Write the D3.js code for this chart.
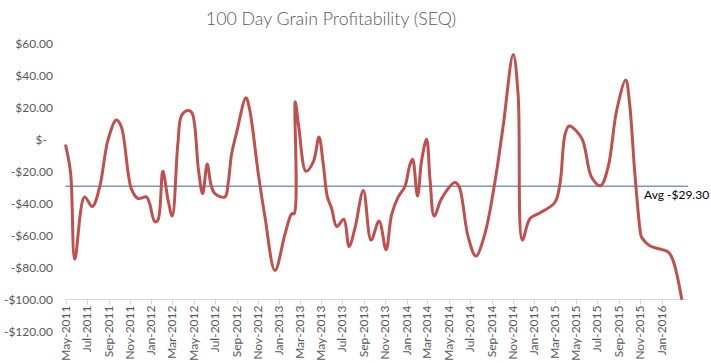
<!DOCTYPE html>
<html>
<head>
<meta charset="utf-8">
<script src="https://cdn.jsdelivr.net/npm/d3@7"></script>
<style>
  body { margin: 0; background: #fff; }
  #chart { width: 711px; height: 363px; }
  text { font-family: Lato, "Open Sans", sans-serif; }
</style>
</head>
<body>
<div id="chart"></div>
<script>
// profit per week
const dates = [
  "2011-05-01","2011-05-15","2011-05-27","2011-06-24","2011-07-16","2011-08-06","2011-08-30","2011-09-23",
  "2011-10-07","2011-11-05","2011-11-24","2011-12-18","2011-12-27","2012-01-11","2012-01-20","2012-02-03",
  "2012-02-18","2012-03-01","2012-03-17","2012-03-28","2012-04-16","2012-04-27","2012-05-15","2012-05-27",
  "2012-06-09","2012-06-20","2012-07-01","2012-07-30","2012-08-08","2012-08-18","2012-09-01","2012-09-28",
  "2012-10-09","2012-11-02","2012-11-21","2012-12-20","2013-01-18","2013-02-06","2013-02-13","2013-02-16",
  "2013-02-26","2013-03-19","2013-04-09","2013-04-25","2013-05-07","2013-05-19","2013-05-31","2013-06-15",
  "2013-07-05","2013-07-20","2013-08-06","2013-08-30","2013-09-21","2013-10-14","2013-11-03","2013-11-19",
  "2013-12-08","2013-12-27","2014-01-10","2014-01-18","2014-02-01","2014-02-13","2014-02-27","2014-03-09",
  "2014-03-21","2014-04-11","2014-05-19","2014-05-31","2014-06-26","2014-07-18","2014-08-13","2014-09-10",
  "2014-10-04","2014-11-02","2014-11-16","2014-11-28","2014-12-20","2015-01-17","2015-03-01","2015-03-16",
  "2015-03-30","2015-04-11","2015-05-17","2015-06-14","2015-07-10","2015-08-01","2015-08-25","2015-09-20",
  "2015-10-01","2015-10-16","2015-10-31","2015-11-04","2015-11-28","2016-01-20","2016-02-03","2016-02-27"
];
const profit = [
  -4, -21, -75, -36, -42, -30, -0.5, 12,
  8, -31, -37, -36, -40, -51.5, -50.5, -20,
  -38, -48, -3, 15, 18, 16.3, -19, -34,
  -15.5, -28.5, -34, -36, -27.5, -9, 4, 26,
  18, -21, -48, -82, -59, -46.5, -46.5, 23.5,
  8, -20, -14, 1.5, -15, -36, -43, -54.5,
  -50, -67, -55.5, -32, -63, -51, -69, -47,
  -36, -29.5, -16, -12.5, -35.5, -13, 0, -25.5,
  -48, -37, -27, -29.5, -61, -73, -59, -27.5,
  8, 53, 28, -63, -49.5, -46, -39.5, -27.5,
  2.7, 8.3, 0.6, -23.5, -29, -17, 18, 37,
  22.5, -21, -56.5, -61, -66.5, -70.5, -76, -99.5
];
const avgProfit = -29.3;
const yTicks = [60, 40, 20, 0, -20, -40, -60, -80, -100, -120];
const xTickDates = [
  "2011-05-01","2011-07-01","2011-09-01","2011-11-01","2012-01-01","2012-03-01","2012-05-01","2012-07-01",
  "2012-09-01","2012-11-01","2013-01-01","2013-03-01","2013-05-01","2013-07-01","2013-09-01","2013-11-01",
  "2014-01-01","2014-03-01","2014-05-01","2014-07-01","2014-09-01","2014-11-01","2015-01-01","2015-03-01",
  "2015-05-01","2015-07-01","2015-09-01","2015-11-01","2016-01-01"
];

const width = 711, height = 363;
const parse = d3.utcParse("%Y-%m-%d");
const fmtMonth = d3.utcFormat("%b-%Y");

const data = dates.map((d, i) => ({date: parse(d), value: profit[i]}));

const svg = d3.select("#chart").append("svg")
  .attr("width", width)
  .attr("height", height);

const x = d3.scaleUtc()
  .domain([parse("2011-05-01"), parse("2016-01-01")])
  .range([65.7, 661.7]);

const y = d3.scaleLinear()
  .domain([-120, 60])
  .range([331.3, 43.3]);

const xLeft = 65.5, xRight = 688;

// title
svg.append("text")
  .attr("x", 331)
  .attr("y", 25)
  .attr("text-anchor", "middle")
  .attr("fill", "#595959")
  .style("font-size", "17.8px")
  .style("font-weight", 300)
  .text("100 Day Grain Profitability (SEQ)");

// y labels (accounting style)
const moneyFmt = v => {
  if (v === 0) return "$-";
  const s = "$" + d3.format(".2f")(Math.abs(v));
  return v < 0 ? "-" + s : s;
};
svg.selectAll("text.ylab")
  .data(yTicks).enter()
  .append("text")
  .classed("ylab", true)
  .attr("x", v => v === 0 ? 47 : 53)
  .attr("y", v => y(v))
  .attr("dy", "0.35em")
  .attr("text-anchor", "end")
  .attr("fill", "#595959")
  .style("font-size", "12px")
  .text(moneyFmt);

// category axis sits on -100
const axisY = Math.round(y(-100)) + 0.5;
svg.append("line")
  .attr("x1", xLeft).attr("x2", xRight)
  .attr("y1", axisY).attr("y2", axisY)
  .attr("stroke", "#d9d9d9");

const xTicks = xTickDates.map(parse);
svg.selectAll("line.xtick")
  .data(xTicks).enter()
  .append("line")
  .classed("xtick", true)
  .attr("x1", d => Math.round(x(d)) + 0.5)
  .attr("x2", d => Math.round(x(d)) + 0.5)
  .attr("y1", axisY)
  .attr("y2", axisY + 5)
  .attr("stroke", "#d9d9d9");

svg.selectAll("text.xlab")
  .data(xTicks).enter()
  .append("text")
  .classed("xlab", true)
  .attr("transform", d => `translate(${x(d) + 4},${axisY + 6}) rotate(-90)`)
  .attr("text-anchor", "end")
  .attr("fill", "#595959")
  .style("font-size", "12px")
  .text(fmtMonth);

// average line
const avgY = y(avgProfit);
svg.append("line")
  .attr("x1", xLeft).attr("x2", xRight)
  .attr("y1", avgY).attr("y2", avgY)
  .attr("stroke", "#3E62A3")
  .attr("stroke-width", 1);

svg.append("text")
  .attr("x", 644)
  .attr("y", avgY + 13)
  .attr("fill", "#000")
  .style("font-size", "12px")
  .text("Avg " + moneyFmt(avgProfit));

// series
const line = d3.line()
  .x(d => x(d.date))
  .y(d => y(d.value))
  .curve(d3.curveCatmullRom.alpha(0.5));

svg.append("path")
  .datum(data)
  .attr("d", line)
  .attr("fill", "none")
  .attr("stroke", "#C0504D")
  .attr("stroke-width", 3)
  .attr("stroke-linejoin", "round")
  .attr("stroke-linecap", "round");
</script>
</body>
</html>
